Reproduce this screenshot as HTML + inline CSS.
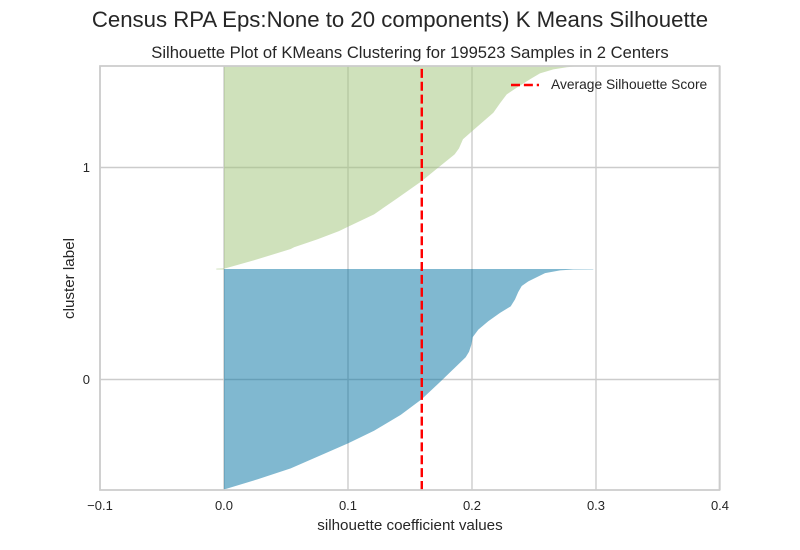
<!DOCTYPE html>
<html lang="en">
<head>
<meta charset="utf-8">
<title>Census RPA K Means Silhouette</title>
<style>
  html, body { margin: 0; padding: 0; background: #ffffff; }
  svg { display: block; }
  text { font-family: "Liberation Sans", Arial, sans-serif; fill: #262626; }
</style>
</head>
<body>
<svg id="chart" xmlns="http://www.w3.org/2000/svg" width="800" height="550" viewBox="0 0 800 550">
  <defs>
    <clipPath id="plot-clip"><rect x="100" y="66" width="620" height="424"></rect></clipPath>
  </defs>
  <rect x="0" y="0" width="800" height="550" fill="#ffffff"></rect>
  <text x="400" y="27" text-anchor="middle" font-size="22.2">Census RPA Eps:None to 20 components) K Means Silhouette</text>
  <text x="410" y="58" text-anchor="middle" font-size="16.6">Silhouette Plot of KMeans Clustering for 199523 Samples in 2 Centers</text>
  <g id="grid"></g>
  <g id="clusters" clip-path="url(#plot-clip)"></g>
  <g id="average" clip-path="url(#plot-clip)"></g>
  <rect x="100" y="66" width="619.5" height="424" fill="none" stroke="#cccccc" stroke-width="1.75"></rect>
  <g id="ticks"></g>
  <text x="410" y="530" text-anchor="middle" font-size="15.2">silhouette coefficient values</text>
  <text transform="translate(74 278.5) rotate(-90)" text-anchor="middle" font-size="15.2">cluster label</text>
  <g>
    <line x1="511" y1="85" x2="539" y2="85" stroke="#ff0000" stroke-width="2.43" stroke-dasharray="8.99 3.89"></line>
    <text x="551" y="89" font-size="13.8">Average Silhouette Score</text>
  </g>
</svg>
<script>
const xTicks = [-0.1, 0.0, 0.1, 0.2, 0.3, 0.4];
const xTickLabels = ["\u22120.1", "0.0", "0.1", "0.2", "0.3", "0.4"];
const yTicks = [0, 1];
const yTickLabels = ["0", "1"];
const averageScore = 0.1595;
const cluster0Positions = [-0.519, -0.471, -0.419, -0.351, -0.301, -0.242, -0.167, -0.093, -0.002, 0.105, 0.131, 0.163, 0.186, 0.200, 0.235, 0.275, 0.314, 0.345, 0.378, 0.413, 0.441, 0.463, 0.502, 0.515, 0.519, 0.5195, 0.5215];
const cluster0Values = [0.0000, 0.0269, 0.0538, 0.0806, 0.1002, 0.1210, 0.1425, 0.1594, 0.1760, 0.1949, 0.1976, 0.1994, 0.2002, 0.2006, 0.2051, 0.2131, 0.2226, 0.2312, 0.2347, 0.2373, 0.2401, 0.2454, 0.2589, 0.2710, 0.2817, 0.2978, 0.2978];
const cluster1Positions = [0.519, 0.523, 0.5245, 0.567, 0.6156, 0.6236, 0.661, 0.700, 0.721, 0.779, 0.855, 0.936, 0.996, 1.062, 1.090, 1.133, 1.174, 1.258, 1.303, 1.345, 1.376, 1.416, 1.444, 1.463, 1.473, 1.478, 1.485];
const cluster1Values = [-0.0062, -0.0062, 0.0014, 0.0269, 0.0538, 0.0565, 0.0752, 0.0927, 0.1002, 0.1210, 0.1398, 0.1594, 0.1720, 0.1860, 0.1895, 0.1927, 0.2006, 0.2172, 0.2226, 0.2280, 0.2360, 0.2468, 0.2548, 0.2656, 0.2764, 0.2857, 0.2950];
const cluster0Color = "#0272A2";
const cluster1Color = "#9FC377";

const SVG_NS = "http://www.w3.org/2000/svg";
function xScale(v) { return 224 + 1240 * v; }
function yScale(v) { return 379.5 - 212 * v; }
function make(tag, attrs, parent) {
  const el = document.createElementNS(SVG_NS, tag);
  Object.keys(attrs).forEach(function (k) { el.setAttribute(k, attrs[k]); });
  parent.appendChild(el);
  return el;
}
const gridG = document.getElementById("grid");
const clustersG = document.getElementById("clusters");
const averageG = document.getElementById("average");
const ticksG = document.getElementById("ticks");

xTicks.forEach(function (t, i) {
  const line = make("line", { x1: xScale(t), x2: xScale(t), y1: 66, y2: 490, stroke: "#cccccc", "stroke-width": 1.4 }, gridG);
  
  
  const label = make("text", { x: xScale(t), y: 510, "text-anchor": "middle", "font-size": 13 }, ticksG);
  
  
  label.textContent = xTickLabels[i];
});
yTicks.forEach(function (t, i) {
  const line = make("line", { x1: 100, x2: 720, y1: yScale(t), y2: yScale(t), stroke: "#cccccc", "stroke-width": 1.4 }, gridG);
  
  
  const label = make("text", { x: 90, y: yScale(t) + 4.5, "text-anchor": "end", "font-size": 13 }, ticksG);
  
  
  label.textContent = yTickLabels[i];
});

function clusterPath(positions, values) {
  let d = "M" + xScale(0) + " " + yScale(positions[0]);
  positions.forEach(function (p, i) {
    d += "L" + xScale(values[i]).toFixed(2) + " " + yScale(p).toFixed(2);
  });
  d += "L" + xScale(0) + " " + yScale(positions[positions.length - 1]) + "Z";
  return d;
}
const area0 = make("path", { d: clusterPath(cluster0Positions, cluster0Values), fill: cluster0Color, "fill-opacity": 0.5 }, clustersG);


const area1 = make("path", { d: clusterPath(cluster1Positions, cluster1Values), fill: cluster1Color, "fill-opacity": 0.5 }, clustersG);



const avgLine = make("line", { x1: xScale(averageScore), x2: xScale(averageScore), y1: 490, y2: 66, stroke: "#ff0000", "stroke-width": 2.43, "stroke-dasharray": "8.99 3.89" }, averageG);


</script>
</body>
</html>
